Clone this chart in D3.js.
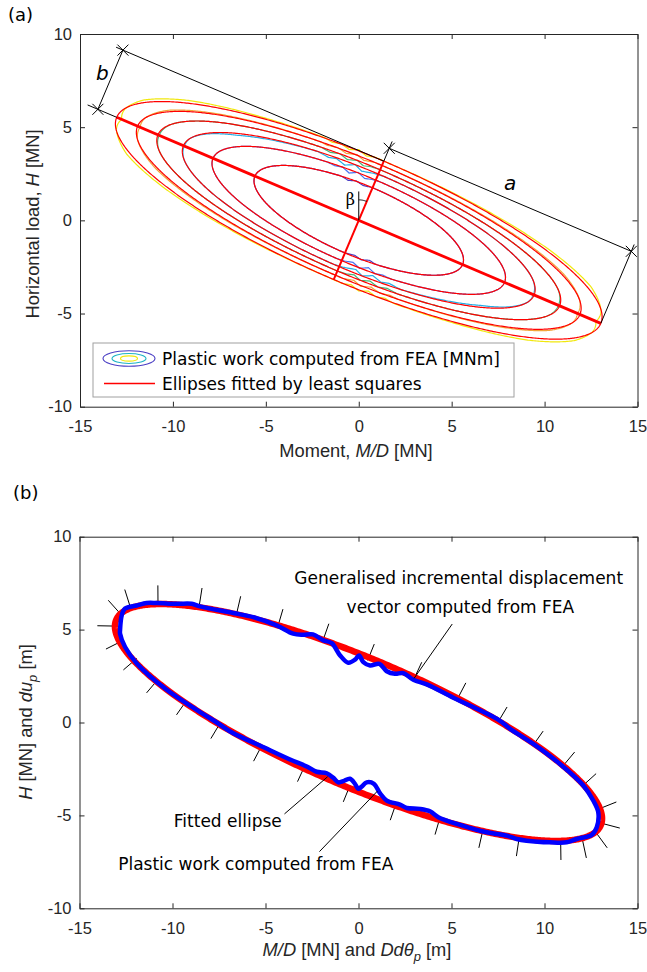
<!DOCTYPE html>
<html>
<head>
<meta charset="utf-8">
<script src="https://cdn.jsdelivr.net/npm/d3@7"></script>
<style>
  body { margin: 0; background: #fff; }
  svg { display: block; }
</style>
</head>
<body>
<svg id="fig" width="647" height="972"></svg>
<script>
// ---------------- data ----------------
const xTicks = [-15, -10, -5, 0, 5, 10, 15];
const yTicks = [-10, -5, 0, 5, 10];

// inclination of the ellipse major axis below the M/D axis (degrees)
const tiltDeg = 23;
// semi-axes of the least-squares ellipses, outermost first
const fitA = [14.15, 12.93, 11.74, 10.25, 8.52, 6.07];
const fitB = [3.45, 3.2, 2.95, 2.7, 2.35, 1.9];

// FEA plastic-work contours: normal deviation from the fitted ellipse,
// [parametric angle (deg), offset (MN)], half ellipse; other half is point-symmetric
const dev0 = [[0,-0.3],[10,-0.02],[25,0.16],[45,0.12],[70,0.04],[88,0],[92,0.02],[94,-0.1],[96,0.06],[98,-0.12],[100,0.02],[102,-0.08],[104,0.02],[120,0.06],[140,0.15],[158,0.14],[170,-0.02],[180,-0.3]];
const dev1 = [[0,-0.15],[12,0],[30,0.08],[60,0.04],[88,0],[92,0],[94.5,-0.12],[96.5,0.03],[99,-0.12],[101.5,0.02],[104,-0.06],[106,0],[130,0.04],[155,0.08],[170,0],[180,-0.15]];
const dev2 = [[0,-0.08],[15,0],[90,0],[92.5,-0.04],[94.5,-0.15],[96.5,0],[99,-0.15],[101.5,0],[104,-0.1],[107,0],[165,0],[180,-0.08]];
const dev3 = [[0,-0.06],[15,0],[88,0],[91,-0.05],[95,-0.2],[97.5,0],[100.5,-0.22],[103.5,-0.04],[106,-0.12],[110,0],[125,-0.05],[140,-0.1],[155,-0.04],[170,0],[180,-0.06]];
const dev4 = [[0,0],[88,0],[91,-0.04],[94,-0.15],[97,0.02],[100,-0.18],[103,0],[106,-0.06],[109,0],[180,0]];
const dev5 = [[0,0],[90,0],[95,-0.08],[99,0.02],[103,-0.1],[107,0],[180,0]];
const contourDevs = [dev0, dev1, dev2, dev3, dev4, dev5];
const contourColors = ["#f1e80e", "#f2a63a", "#44b87a", "#25aee6", "#4a73f0", "#4a3ec4"];

// FEA plastic-work contour used in panel (b): [M/D, H]
const feaPath = [
  [-12.82,4.96],[-12.73,5.77],[-12.55,6.13],[-11.92,6.30],[-11.39,6.43],[-10.85,6.43],[-9.77,6.39],
  [-8.97,6.39],[-8.52,6.25],[-6.73,5.89],[-5.66,5.67],[-4.40,5.23],[-3.51,4.78],[-3.0,4.72],
  [-2.45,4.74],[-1.89,4.42],[-1.44,4.27],[-0.99,3.61],[-0.55,3.22],[-0.19,3.38],[0.03,3.61],
  [0.26,3.25],[0.62,3.07],[1.12,3.16],[1.52,2.76],[1.96,2.62],[2.41,2.66],[2.95,2.30],[3.67,2.05],
  [5.10,1.33],[7.55,0.13],[8.15,-0.34],[9.40,-1.15],[10.83,-2.23],[12.09,-3.39],[12.62,-4.20],
  [12.89,-4.83],[12.81,-5.64],[12.54,-6.05],[11.73,-6.27],[11.19,-6.45],[10.30,-6.45],[9.04,-6.36],
  [8.51,-6.27],[7.97,-6.09],[6.89,-5.91],[6.35,-5.78],[5.28,-5.46],[4.74,-5.28],[4.29,-5.10],
  [3.84,-4.78],[3.31,-4.65],[2.59,-4.60],[2.23,-4.42],[1.52,-4.20],[1.16,-3.81],[0.83,-3.30],
  [0.44,-3.22],[0.17,-3.45],[-0.01,-3.57],[-0.19,-3.30],[-0.46,-3.03],[-0.82,-3.16],[-1.09,-3.22],
  [-1.35,-2.98],[-1.71,-2.73],[-2.25,-2.65],[-2.78,-2.37],[-3.68,-1.99],[-5.30,-1.24],[-6.73,-0.58],
  [-7.62,0.0],[-8.70,0.68],[-10.31,1.76],[-11.92,3.18],[-12.55,4.06],[-12.82,4.78]
];
// points on the contour where the incremental displacement vector is shown: [M/D, H]
const vectorBases = [
  [-12.82,5.87],[-13.09,5.19],[-12.73,4.38],[-11.92,3.45],[-10.78,2.32],[-9.24,1.19],[-7.45,-0.05],
  [-5.20,-1.24],[-2.88,-2.32],[-0.46,-3.39],[2.02,-4.36],[4.38,-5.12],[6.68,-5.82],[8.63,-6.25],
  [10.87,-6.45],[12.05,-6.36],[12.81,-5.98],[13.13,-5.44],[12.98,-4.63],[12.07,-3.39],[11.01,-2.32],
  [9.38,-1.24],[7.5,0.02],[5.33,1.29],[3.0,2.38],[0.49,3.34],[-1.91,4.42],[-4.33,5.19],[-6.55,5.87],
  [-8.56,6.30],[-10.78,6.43],[-12.28,6.25]
];
const vectorLength = 0.95;

// ---------------- geometry ----------------
const phi = tiltDeg * Math.PI / 180;
const U = [Math.cos(phi), -Math.sin(phi)];   // major-axis direction
const V = [Math.sin(phi), Math.cos(phi)];    // minor-axis direction
const ellPt = (a, b, t) => [a*Math.cos(t)*U[0] + b*Math.sin(t)*V[0], a*Math.cos(t)*U[1] + b*Math.sin(t)*V[1]];
const ellNorm = (a, b, t) => {
  const nx = Math.cos(t)/a*U[0] + Math.sin(t)/b*V[0];
  const ny = Math.cos(t)/a*U[1] + Math.sin(t)/b*V[1];
  const l = Math.hypot(nx, ny);
  return [nx/l, ny/l];
};
const tSteps = d3.range(0, 360, 0.5);
function ellipseCurve(a, b, devTable) {
  const dev = devTable
    ? d3.scaleLinear().domain(devTable.map(d => d[0])).range(devTable.map(d => d[1])).clamp(true)
    : null;
  return tSteps.map(td => {
    const t = td * Math.PI / 180;
    const p = ellPt(a, b, t), n = ellNorm(a, b, t);
    const o = dev ? dev(td % 180) : 0;
    return [p[0] + o*n[0], p[1] + o*n[1]];
  });
}
const add = (p, q, k = 1) => [p[0] + k*q[0], p[1] + k*q[1]];

// ---------------- drawing ----------------
const svg = d3.select("#fig");
const tickFont = "'Liberation Sans', Arial, Helvetica, sans-serif";
const noteFont = "'DejaVu Sans', Verdana, sans-serif";
const ink = "#262626";

function drawFrame(g, x, y) {
  const [x0, x1] = x.range(), [y0, y1] = y.range();
  const fmt = d => String(d);
  const axes = [
    g.append("g").attr("transform", `translate(0,${y0})`)
      .call(d3.axisBottom(x).tickValues(xTicks).tickFormat(fmt).tickSizeInner(-5).tickSizeOuter(0).tickPadding(14)),
    g.append("g").attr("transform", `translate(0,${y1})`)
      .call(d3.axisTop(x).tickValues(xTicks).tickFormat("").tickSizeInner(-5).tickSizeOuter(0)),
    g.append("g").attr("transform", `translate(${x0},0)`)
      .call(d3.axisLeft(y).tickValues(yTicks).tickFormat(fmt).tickSizeInner(-5).tickSizeOuter(0).tickPadding(8)),
    g.append("g").attr("transform", `translate(${x1},0)`)
      .call(d3.axisRight(y).tickValues(yTicks).tickFormat("").tickSizeInner(-5).tickSizeOuter(0))
  ];
  axes.forEach(a => {
    a.attr("font-family", tickFont).attr("font-size", 16.5);
    a.selectAll("path.domain").attr("stroke", ink).attr("stroke-width", 1);
    a.selectAll(".tick line").attr("stroke", ink);
    a.selectAll(".tick text").attr("fill", ink);
  });
}

function xMarker(g, px, py, s) {
  g.append("path")
    .attr("d", `M${px-s},${py-s}L${px+s},${py+s}M${px-s},${py+s}L${px+s},${py-s}`)
    .attr("stroke", "#000").attr("stroke-width", 1).attr("fill", "none");
}

// ===== panel (a) =====
const xA = d3.scaleLinear().domain([-15, 15]).range([80, 637.5]);
const yA = d3.scaleLinear().domain([-10, 10]).range([406.7, 34]);
const gA = svg.append("g");
const lineA = d3.line().x(d => xA(d[0])).y(d => yA(d[1]));

// FEA contours
fitA.forEach((a, i) => {
  gA.append("path").datum(ellipseCurve(a, fitB[i], contourDevs[i]))
    .attr("d", lineA.curve(d3.curveLinearClosed))
    .attr("fill", "none").attr("stroke", contourColors[i]).attr("stroke-width", 1.2);
});
// fitted ellipses
fitA.forEach((a, i) => {
  gA.append("path").datum(ellipseCurve(a, fitB[i], null))
    .attr("d", lineA.curve(d3.curveLinearClosed))
    .attr("fill", "none").attr("stroke", "#ff0000").attr("stroke-width", 1.2);
});

const a0 = fitA[0], b0 = fitB[0];
const Lv = ellPt(a0, b0, Math.PI), Rv = ellPt(a0, b0, 0);
const Tv = ellPt(a0, b0, Math.PI/2), Bv = ellPt(a0, b0, 3*Math.PI/2);
const seg = (g, p, q, color, w) => g.append("line")
  .attr("x1", xA(p[0])).attr("y1", yA(p[1])).attr("x2", xA(q[0])).attr("y2", yA(q[1]))
  .attr("stroke", color).attr("stroke-width", w);

// principal axes
seg(gA, Lv, Rv, "#ff0000", 2.8);
seg(gA, Bv, Tv, "#ff0000", 2);

// dimension b
const B1 = add(Lv, U, -1.1), B2 = add(B1, V, b0);
seg(gA, Lv, add(Lv, U, -1.7), "#000", 1);
seg(gA, B1, B2, "#000", 1);
seg(gA, Tv, add(B2, U, -0.4), "#000", 1);
// dimension a
const hOff = 4.2;
const A1 = [hOff*V[0], hOff*V[1]], A2 = add(Rv, V, hOff);
seg(gA, A1, A2, "#000", 1);
seg(gA, Rv, add(A2, V, 0.4), "#000", 1);
seg(gA, Tv, add(A1, V, 0.4), "#000", 1);
[B1, B2, A1, A2].forEach(p => xMarker(gA, xA(p[0]), yA(p[1]), 5.5));

// angle beta between vertical and the minor axis
seg(gA, [0, 0], [0, 1.55], "#000", 1);
const arcPts = d3.range(90 - tiltDeg, 90.01, 1).map(d => [1.1*Math.cos(d*Math.PI/180), 1.1*Math.sin(d*Math.PI/180)]);
gA.append("path").datum(arcPts).attr("d", lineA.curve(d3.curveLinear))
  .attr("fill", "none").attr("stroke", "#000").attr("stroke-width", 1);

gA.append("text").attr("x", xA(-13.8)).attr("y", yA(7.9)).attr("dy", "0.35em")
  .attr("text-anchor", "middle").attr("font-family", noteFont).attr("font-style", "italic")
  .attr("font-size", 20).attr("fill", "#000").text("b");
gA.append("text").attr("x", xA(8.15)).attr("y", yA(2.0)).attr("dy", "0.35em")
  .attr("text-anchor", "middle").attr("font-family", noteFont).attr("font-style", "italic")
  .attr("font-size", 20).attr("fill", "#000").text("a");
gA.append("text").attr("x", xA(-0.45)).attr("y", yA(1.1)).attr("dy", "0.35em")
  .attr("text-anchor", "middle").attr("font-family", "'DejaVu Serif', 'Liberation Serif', serif")
  .attr("font-size", 16).attr("fill", "#000").text("β");

drawFrame(gA, xA, yA);

// legend
const leg = gA.append("g");
leg.append("rect").attr("x", 93).attr("y", 343).attr("width", 421).attr("height", 54)
  .attr("fill", "#fff").attr("stroke", "#a0a0a0").attr("stroke-width", 1);
[[26, 7.8, contourColors[5]], [17, 5, "#1fb4c6"], [8.5, 2.6, contourColors[0]]].forEach(([rx, ry, c]) => {
  leg.append("ellipse").attr("cx", 129).attr("cy", 358.5).attr("rx", rx).attr("ry", ry)
    .attr("fill", "none").attr("stroke", c).attr("stroke-width", 1.1);
});
leg.append("line").attr("x1", 104).attr("x2", 155).attr("y1", 383.5).attr("y2", 383.5)
  .attr("stroke", "#ff0000").attr("stroke-width", 1.5);
leg.append("text").attr("x", 162).attr("y", 364.5).attr("font-family", noteFont).attr("font-size", 17)
  .attr("fill", "#000").text("Plastic work computed from FEA [MNm]");
leg.append("text").attr("x", 162).attr("y", 389.5).attr("font-family", noteFont).attr("font-size", 17)
  .attr("fill", "#000").text("Ellipses fitted by least squares");

// axis titles (a)
const tA = gA.append("text").attr("x", 356).attr("y", 457).attr("text-anchor", "middle")
  .attr("font-family", tickFont).attr("font-size", 18.3).attr("fill", ink);
tA.append("tspan").text("Moment, ");
tA.append("tspan").attr("font-style", "italic").text("M/D");
tA.append("tspan").text(" [MN]");
const tAy = gA.append("text").attr("transform", "translate(38.5,224) rotate(-90)").attr("text-anchor", "middle")
  .attr("font-family", tickFont).attr("font-size", 18.3).attr("fill", ink);
tAy.append("tspan").text("Horizontal load, ");
tAy.append("tspan").attr("font-style", "italic").text("H");
tAy.append("tspan").text(" [MN]");

svg.append("text").attr("x", 8).attr("y", 21).attr("font-family", noteFont).attr("font-size", 18)
  .attr("fill", "#000").text("(a)");

// ===== panel (b) =====
const xB = d3.scaleLinear().domain([-15, 15]).range([79.5, 637.5]);
const yB = d3.scaleLinear().domain([-10, 10]).range([908.3, 536.7]);
const gB = svg.append("g");
const lineB = d3.line().x(d => xB(d[0])).y(d => yB(d[1]));
const segB = (p, q, w) => gB.append("line")
  .attr("x1", xB(p[0])).attr("y1", yB(p[1])).attr("x2", xB(q[0])).attr("y2", yB(q[1]))
  .attr("stroke", "#000").attr("stroke-width", w);

// displacement vectors (normal to the yield surface)
vectorBases.forEach(([m, h]) => {
  const p = m*U[0] + h*U[1], q = m*V[0] + h*V[1];
  const t = Math.atan2(q / b0, p / a0);
  const n = ellNorm(a0, b0, t);
  segB([m, h], [m + vectorLength*n[0], h + vectorLength*n[1]], 1);
});

gB.append("path").datum(ellipseCurve(a0, b0, null))
  .attr("d", lineB.curve(d3.curveLinearClosed))
  .attr("fill", "none").attr("stroke", "#ff0000").attr("stroke-width", 6.5);
gB.append("path").datum(feaPath)
  .attr("d", lineB.curve(d3.curveCatmullRomClosed.alpha(0.5)))
  .attr("fill", "none").attr("stroke", "#0000ff").attr("stroke-width", 4.5)
  .attr("stroke-linejoin", "round");

// annotations
segB([5.04, 5.3], [2.99, 2.38], 1);
segB([-3.98, -4.92], [-1.66, -2.92], 1);
segB([-2.10, -6.95], [1.02, -3.69], 1);
const note = (m, h, s, anchor) => gB.append("text").attr("x", xB(m)).attr("y", yB(h))
  .attr("text-anchor", anchor).attr("font-family", noteFont).attr("font-size", 17)
  .attr("fill", "#000").text(s);
note(-3.45, 7.45, "Generalised incremental displacement", "start");
note(5.48, 5.87, "vector computed from FEA", "middle");
note(-9.93, -5.6, "Fitted ellipse", "start");
note(-12.92, -7.94, "Plastic work computed from FEA", "start");

drawFrame(gB, xB, yB);

// axis titles (b)
const tB = gB.append("text").attr("x", 357).attr("y", 956).attr("text-anchor", "middle")
  .attr("font-family", tickFont).attr("font-size", 18.3).attr("fill", ink);
tB.append("tspan").attr("font-style", "italic").text("M/D");
tB.append("tspan").text(" [MN] and ");
tB.append("tspan").attr("font-style", "italic").text("Ddθ");
tB.append("tspan").attr("font-style", "italic").attr("font-size", 13).attr("dy", 5).text("p");
tB.append("tspan").attr("dy", -5).text(" [m]");
const tBy = gB.append("text").attr("transform", "translate(32,722) rotate(-90)").attr("text-anchor", "middle")
  .attr("font-family", tickFont).attr("font-size", 18.3).attr("fill", ink);
tBy.append("tspan").attr("font-style", "italic").text("H");
tBy.append("tspan").text(" [MN] and ");
tBy.append("tspan").attr("font-style", "italic").text("du");
tBy.append("tspan").attr("font-style", "italic").attr("font-size", 13).attr("dy", 5).text("p");
tBy.append("tspan").attr("dy", -5).text(" [m]");

svg.append("text").attr("x", 13).attr("y", 499).attr("font-family", noteFont).attr("font-size", 18)
  .attr("fill", "#000").text("(b)");
</script>
</body>
</html>
